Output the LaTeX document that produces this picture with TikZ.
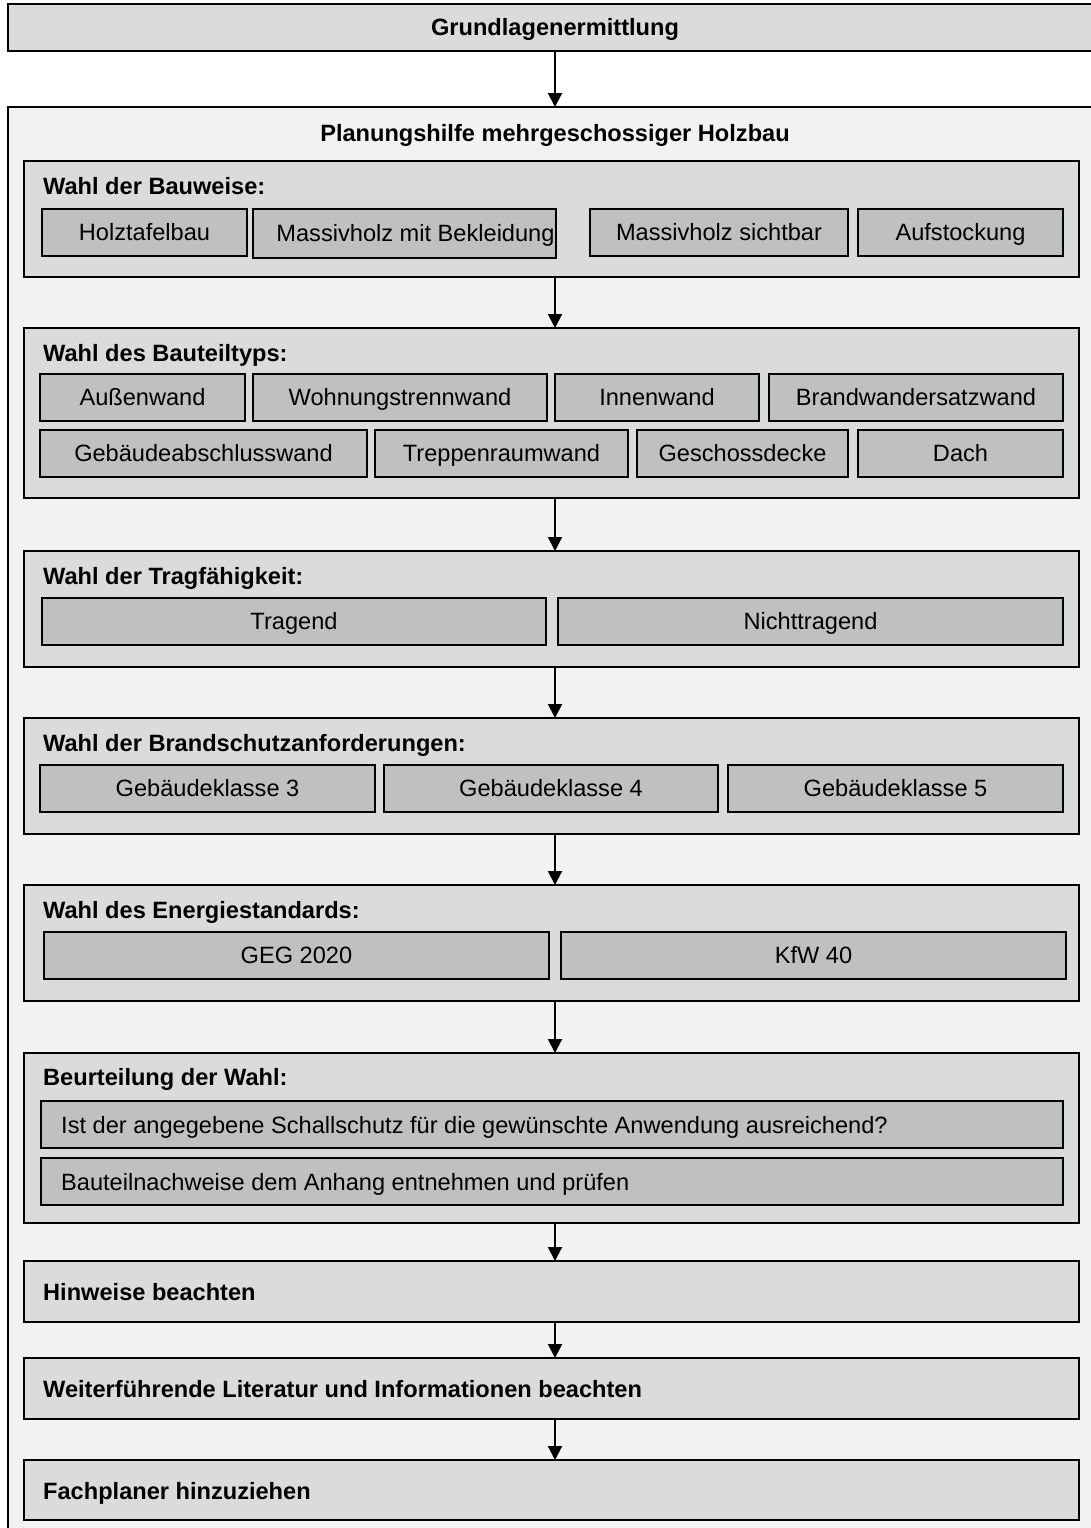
\documentclass[tikz,border=0pt]{standalone}
\usepackage{fontspec}
\setmainfont{Liberation Sans}
\usetikzlibrary{arrows.meta}

\definecolor{panelgray}{HTML}{F2F2F2}
\definecolor{bandgray}{HTML}{DADCDB}
\definecolor{choicegray}{HTML}{C0C0C0}

\newcommand\boxfont{\fontsize{23.6}{28}\selectfont}

\tikzset{
  frame/.style={draw=black, line width=2pt, rectangle, inner sep=0pt, outer sep=0pt},
  panelbox/.style={frame, fill=panelgray},
  bandbox/.style={frame, fill=bandgray},
  choicebox/.style={frame, fill=choicegray, text height=16.5pt, text depth=0pt,
                    font=\boxfont},
  headbox/.style={frame, fill=bandgray, text height=17pt, text depth=0pt,
                  font=\bfseries\boxfont},
  headtxt/.style={anchor=base west, inner sep=0pt, font=\bfseries\boxfont},
  plaintxt/.style={anchor=base west, inner sep=0pt, font=\boxfont},
  flow/.style={line width=2pt, -{Triangle[length=14pt,width=14pt]}},
}

% \gbox{style}{name}{x1}{y1}{x2}{y2}{text}: box between two corners (pixel units)
\newcommand\gbox[7]{%
  \node[#1, minimum width={(#5)-(#3)}, minimum height={(#6)-(#4)}]
    (#2) at ({((#3)+(#5))/2},{((#4)+(#6))/2}) {#7};}

\begin{document}
\begin{tikzpicture}[x=1pt, y=-1pt]
  \fill[white] (0,0) rectangle (1091,1528);
  \useasboundingbox (0,0) rectangle (1091,1528);
  \coordinate (axis) at (555,0);

  % head and surrounding frame
  \gbox{headbox}{top}{8}{4}{1102}{51}{Grundlagenermittlung}
  \gbox{panelbox}{outer}{8}{107}{1102}{1545}{}
  \node[anchor=base, inner sep=0pt, font=\bfseries\boxfont]
    (title) at ([yshift=-34.5pt]outer.north) {Planungshilfe mehrgeschossiger Holzbau};

  % 1: Bauweise
  \gbox{bandbox}{s1}{24}{161}{1079}{277}{}
  \node[headtxt] (s1t) at ([shift={(19,33)}]s1.north west) {Wahl der Bauweise:};
  \gbox{choicebox}{b11}{42}{209}{247}{256}{Holztafelbau}
  \gbox{choicebox}{b12}{253}{209}{556}{258}{\hspace*{22pt}Massivholz mit Bekleidung}
  \gbox{choicebox}{b13}{590}{209}{848}{256}{Massivholz sichtbar}
  \gbox{choicebox}{b14}{858}{209}{1063}{256}{Aufstockung}

  % 2: Bauteiltyp
  \gbox{bandbox}{s2}{24}{328}{1079}{498}{}
  \node[headtxt] (s2t) at ([shift={(19,33)}]s2.north west) {Wahl des Bauteiltyps:};
  \gbox{choicebox}{b21}{40}{374}{245}{421}{Außenwand}
  \gbox{choicebox}{b22}{253}{374}{547}{421}{Wohnungstrennwand}
  \gbox{choicebox}{b23}{555}{374}{759}{421}{Innenwand}
  \gbox{choicebox}{b24}{769}{374}{1063}{421}{Brandwandersatzwand}
  \gbox{choicebox}{b25}{40}{430}{367}{477}{Gebäudeabschlusswand}
  \gbox{choicebox}{b26}{375}{430}{628}{477}{Treppenraumwand}
  \gbox{choicebox}{b27}{637}{430}{848}{477}{Geschossdecke}
  \gbox{choicebox}{b28}{858}{430}{1063}{477}{Dach}

  % 3: Tragfähigkeit
  \gbox{bandbox}{s3}{24}{551}{1079}{667}{}
  \node[headtxt] (s3t) at ([shift={(19,33)}]s3.north west) {Wahl der Tragfähigkeit:};
  \gbox{choicebox}{b31}{42}{598}{546}{645}{Tragend}
  \gbox{choicebox}{b32}{558}{598}{1063}{645}{Nichttragend}

  % 4: Brandschutz
  \gbox{bandbox}{s4}{24}{718}{1079}{834}{}
  \node[headtxt] (s4t) at ([shift={(19,33)}]s4.north west) {Wahl der Brandschutzanforderungen:};
  \gbox{choicebox}{b41}{40}{765}{375}{812}{Gebäudeklasse 3}
  \gbox{choicebox}{b42}{384}{765}{718}{812}{Gebäudeklasse 4}
  \gbox{choicebox}{b43}{728}{765}{1063}{812}{Gebäudeklasse 5}

  % 5: Energiestandard
  \gbox{bandbox}{s5}{24}{885}{1079}{1001}{}
  \node[headtxt] (s5t) at ([shift={(19,33)}]s5.north west) {Wahl des Energiestandards:};
  \gbox{choicebox}{b51}{44}{932}{549}{979}{GEG 2020}
  \gbox{choicebox}{b52}{561}{932}{1066}{979}{KfW 40}

  % 6: Beurteilung
  \gbox{bandbox}{s6}{24}{1053}{1079}{1223}{}
  \node[headtxt] (s6t) at ([shift={(19,32)}]s6.north west) {Beurteilung der Wahl:};
  \gbox{choicebox}{b61}{41}{1101}{1063}{1148}{}
  \node[plaintxt] (b61t) at ([shift={(20,32.5)}]b61.north west)
    {Ist der angegebene Schallschutz für die gewünschte Anwendung ausreichend?};
  \gbox{choicebox}{b62}{41}{1158}{1063}{1205}{}
  \node[plaintxt] (b62t) at ([shift={(20,32.5)}]b62.north west)
    {Bauteilnachweise dem Anhang entnehmen und prüfen};

  % closing steps
  \gbox{bandbox}{h1}{24}{1261}{1079}{1322}{}
  \node[headtxt] (h1t) at ([shift={(19,39.5)}]h1.north west) {Hinweise beachten};
  \gbox{bandbox}{h2}{24}{1358}{1079}{1419}{}
  \node[headtxt] (h2t) at ([shift={(19,39.5)}]h2.north west) {Weiterführende Literatur und Informationen beachten};
  \gbox{bandbox}{h3}{24}{1460}{1079}{1520}{}
  \node[headtxt] (h3t) at ([shift={(19,39)}]h3.north west) {Fachplaner hinzuziehen};

  % flow arrows
  \draw[flow] (top.south -| axis) -- (outer.north -| axis);
  \draw[flow] (s1.south -| axis) -- (s2.north -| axis);
  \draw[flow] (s2.south -| axis) -- (s3.north -| axis);
  \draw[flow] (s3.south -| axis) -- (s4.north -| axis);
  \draw[flow] (s4.south -| axis) -- (s5.north -| axis);
  \draw[flow] (s5.south -| axis) -- (s6.north -| axis);
  \draw[flow] (s6.south -| axis) -- (h1.north -| axis);
  \draw[flow] (h1.south -| axis) -- (h2.north -| axis);
  \draw[flow] (h2.south -| axis) -- (h3.north -| axis);
\end{tikzpicture}
\end{document}
